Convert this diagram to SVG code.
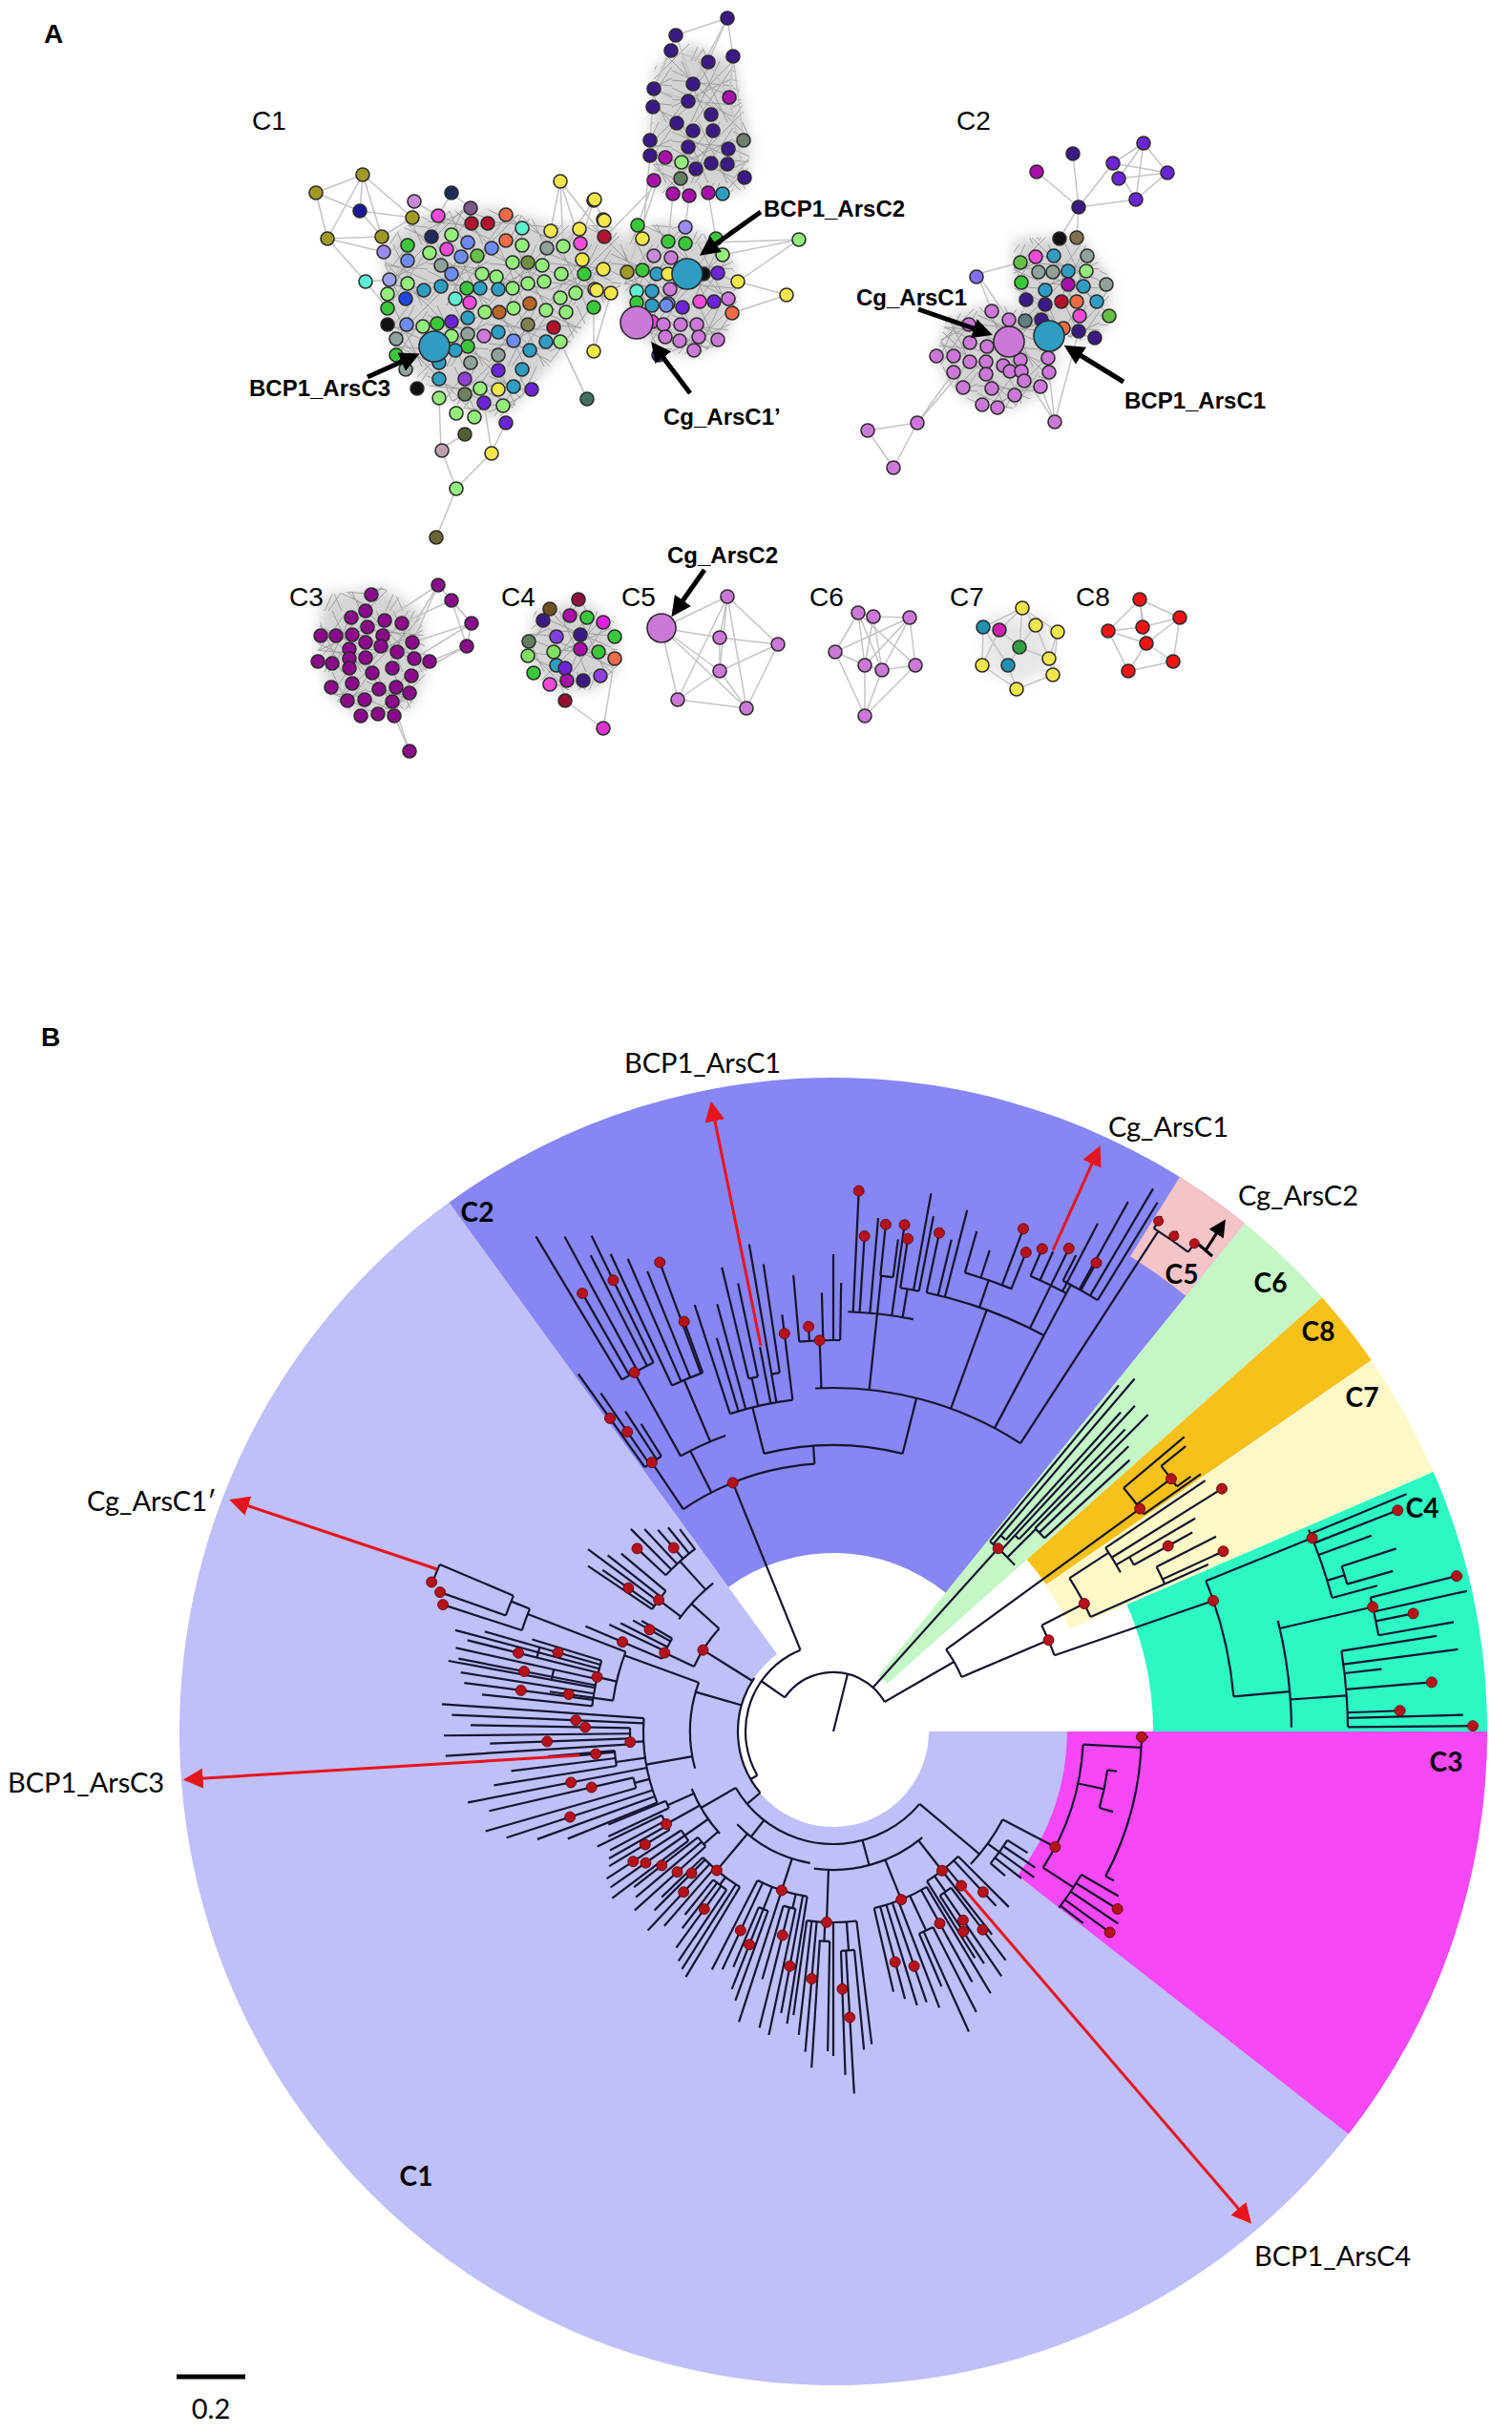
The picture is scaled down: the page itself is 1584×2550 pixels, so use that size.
<svg xmlns="http://www.w3.org/2000/svg" width="1584" height="2550" viewBox="0 0 1584 2550">
<defs>
<style>
.pl-lab{font-family:"Liberation Sans",Arial,sans-serif;font-weight:bold;font-size:28px;fill:#000}
.ca{font-family:"Liberation Sans",Arial,sans-serif;font-size:28px;fill:#000}
.na{font-family:"Liberation Sans",Arial,sans-serif;font-weight:bold;font-size:24px;fill:#000}
.cb{font-family:Lato,"Open Sans",sans-serif;font-weight:bold;font-size:28px;fill:#000;text-anchor:middle}
.lb{font-family:Lato,"Open Sans",sans-serif;font-size:29px;fill:#000}
.cl-soft{fill:#b0b0b0;opacity:0.55;filter:url(#blur)}
.cl-mesh{fill:url(#mesh);opacity:0.8}
#edges line{stroke:#c4c4c4;stroke-width:1.5}
#nodes circle{stroke:#2b2b2b;stroke-width:1.6}
.lg{fill:#93ee7c}.g{fill:#3ac83a}.g2{fill:#66bf48}.t{fill:#2f9dc2}.y{fill:#f3e64a}.ol{fill:#a09a22}
.dp{fill:#3c1a86}.pu{fill:#6b24d6}.mg{fill:#a80fa8}.m3{fill:#8a0a8a}.pp{fill:#cc78d8}.pk{fill:#f24ad8}
.bl{fill:#6e8cf0}.aq{fill:#5ff0d2}.cr{fill:#b3122e}.or{fill:#f06c48}.gr{fill:#8fa399}.bk{fill:#111}
.nv{fill:#1e2b5a}.lv{fill:#9c8af0}.bw{fill:#b8652a}.rd{fill:#ee1414}.pl{fill:#c58ad8}
.tr path,.tr circle{fill:none;stroke:#15152f;stroke-width:2.2}
.dt circle{fill:#b5121b;stroke:#5a0808;stroke-width:0.8}
.arw{stroke:#000;stroke-width:5;fill:none}
.rar{stroke:#e8141b;stroke-width:3;fill:none}
</style>
<filter id="blur" x="-20%" y="-20%" width="140%" height="140%"><feGaussianBlur stdDeviation="7"/></filter>
<pattern id="mesh" width="64" height="64" patternUnits="userSpaceOnUse"><path d="M0 10L64 38M0 48L64 18M10 0L38 64M50 0L20 64M0 0L64 64M64 0L0 64M0 28L64 58M28 0L58 64M0 60L44 0M24 64L64 6M0 20L64 26M0 40L64 46" stroke="#8e8e8e" stroke-width="1" fill="none"/></pattern>
<path id="cA1" d="M405 250L450 222L520 218L580 236L640 236L660 262L650 300L620 330L590 368L560 400L530 436L500 436L470 418L440 398L414 368L404 330L402 290Z"/>
<path id="cA2" d="M656 242L700 232L740 246L768 272L772 320L758 358L730 372L700 370L670 352L656 320L652 280Z"/>
<path id="cA3" d="M686 70L720 45L768 62L786 150L782 198L740 206L690 202L680 150Z"/>
<path id="cC2a" d="M1062 250L1130 247L1162 290L1162 340L1140 358L1082 344L1062 300Z"/>
<path id="cC2b" d="M992 332L1040 318L1100 332L1108 380L1094 410L1060 428L1020 423L990 398L982 370Z"/>
<path id="cC3" d="M338 624L400 615L440 640L448 700L430 742L380 752L346 730L333 680Z"/>
<path id="cC4" d="M560 640L610 630L644 652L648 700L620 723L576 723L552 690Z"/>
<path id="cC7" d="M1032 645L1098 645L1104 700L1065 718L1030 700Z"/>
<marker id="ka" viewBox="0 0 10 10" refX="7" refY="5" markerWidth="4.2" markerHeight="4.2" orient="auto"><path d="M0 0L10 5L0 10z" fill="#000"/></marker>
<marker id="kb" viewBox="0 0 10 10" refX="7" refY="5" markerWidth="6" markerHeight="6" orient="auto"><path d="M0 0L10 5L0 10z" fill="#000"/></marker>
<marker id="ra" viewBox="0 0 10 10" refX="7" refY="5" markerWidth="7" markerHeight="7" orient="auto"><path d="M0 0L10 5L0 10z" fill="#e8141b"/></marker>
</defs>
<rect width="1584" height="2550" fill="#fff"/>

<!-- ================= PANEL A ================= -->
<text class="pl-lab" x="46" y="45">A</text>
<g id="clouds">
<use href="#cA1" class="cl-soft"/><use href="#cA2" class="cl-soft"/><use href="#cA3" class="cl-soft"/><use href="#cC2a" class="cl-soft"/><use href="#cC2b" class="cl-soft"/><use href="#cC3" class="cl-soft"/><use href="#cC4" class="cl-soft"/><use href="#cC7" class="cl-soft" style="opacity:0.3"/>
<use href="#cA1" class="cl-mesh"/><use href="#cA2" class="cl-mesh"/><use href="#cA3" class="cl-mesh"/><use href="#cC2a" class="cl-mesh"/><use href="#cC2b" class="cl-mesh"/><use href="#cC3" class="cl-mesh"/><use href="#cC4" class="cl-mesh"/>
</g>
<g id="edges">
<line x1="380" y1="183" x2="331" y2="202"/><line x1="380" y1="183" x2="343" y2="250"/><line x1="380" y1="183" x2="377" y2="221"/><line x1="380" y1="183" x2="400" y2="248"/><line x1="380" y1="183" x2="432" y2="228"/><line x1="331" y1="202" x2="343" y2="250"/><line x1="343" y1="250" x2="400" y2="248"/><line x1="377" y1="221" x2="400" y2="248"/><line x1="400" y1="248" x2="432" y2="228"/><line x1="400" y1="248" x2="402" y2="264"/><line x1="402" y1="264" x2="427" y2="257"/><line x1="432" y1="228" x2="434" y2="211"/><line x1="434" y1="211" x2="459" y2="226"/><line x1="343" y1="250" x2="383" y2="295"/><line x1="383" y1="295" x2="408" y2="293"/><line x1="331" y1="202" x2="377" y2="221"/><line x1="377" y1="221" x2="432" y2="228"/><line x1="402" y1="264" x2="408" y2="293"/><line x1="343" y1="250" x2="402" y2="264"/><line x1="473" y1="202" x2="459" y2="226"/><line x1="473" y1="202" x2="493" y2="218"/><line x1="383" y1="295" x2="406" y2="323"/><line x1="408" y1="293" x2="427" y2="273"/>
<line x1="587" y1="190" x2="608" y2="255"/><line x1="587" y1="190" x2="573" y2="260"/><line x1="587" y1="190" x2="633" y2="248"/><line x1="622" y1="210" x2="632" y2="230"/><line x1="622" y1="210" x2="608" y2="255"/><line x1="587" y1="190" x2="590" y2="258"/><line x1="622" y1="210" x2="590" y2="258"/>
<line x1="462" y1="470" x2="478" y2="512"/><line x1="515" y1="474" x2="478" y2="512"/><line x1="478" y1="512" x2="457" y2="563"/><line x1="462" y1="470" x2="460" y2="417"/><line x1="515" y1="474" x2="507" y2="422"/><line x1="515" y1="474" x2="530" y2="443"/><line x1="462" y1="470" x2="487" y2="455"/><line x1="615" y1="418" x2="587" y2="358"/><line x1="615" y1="418" x2="580" y2="343"/><line x1="622" y1="368" x2="622" y2="322"/><line x1="622" y1="368" x2="640" y2="307"/>
<line x1="837" y1="251" x2="773" y2="295"/><line x1="837" y1="251" x2="757" y2="267"/><line x1="824" y1="309" x2="773" y2="295"/><line x1="824" y1="309" x2="767" y2="328"/><line x1="837" y1="251" x2="718" y2="255"/>
<line x1="668" y1="236" x2="685" y2="189"/><line x1="700" y1="253" x2="705" y2="203"/><line x1="657" y1="285" x2="697" y2="165"/><line x1="673" y1="250" x2="681" y2="163"/><line x1="750" y1="250" x2="742" y2="202"/><line x1="718" y1="238" x2="722" y2="205"/><line x1="637" y1="245" x2="681" y2="200"/>
<line x1="762" y1="19" x2="708" y2="37"/><line x1="762" y1="19" x2="742" y2="65"/><line x1="762" y1="19" x2="768" y2="59"/><line x1="762" y1="19" x2="726" y2="88"/><line x1="708" y1="37" x2="685" y2="93"/><line x1="703" y1="53" x2="742" y2="65"/><line x1="768" y1="59" x2="764" y2="102"/><line x1="768" y1="59" x2="779" y2="147"/><line x1="764" y1="102" x2="780" y2="186"/><line x1="685" y1="93" x2="681" y2="147"/><line x1="708" y1="37" x2="726" y2="88"/><line x1="703" y1="53" x2="685" y2="93"/><line x1="742" y1="65" x2="726" y2="88"/><line x1="742" y1="65" x2="764" y2="102"/><line x1="685" y1="93" x2="721" y2="106"/><line x1="726" y1="88" x2="745" y2="120"/>
<line x1="1198" y1="150" x2="1166" y2="171"/><line x1="1198" y1="150" x2="1172" y2="187"/><line x1="1198" y1="150" x2="1223" y2="181"/><line x1="1198" y1="150" x2="1190" y2="209"/><line x1="1166" y1="171" x2="1223" y2="181"/><line x1="1172" y1="187" x2="1223" y2="181"/><line x1="1190" y1="209" x2="1223" y2="181"/><line x1="1190" y1="209" x2="1130" y2="217"/><line x1="1124" y1="161" x2="1130" y2="217"/><line x1="1086" y1="180" x2="1130" y2="217"/><line x1="1166" y1="171" x2="1130" y2="217"/><line x1="1130" y1="217" x2="1110" y2="250"/><line x1="1130" y1="217" x2="1128" y2="249"/><line x1="1166" y1="171" x2="1190" y2="209"/>
<line x1="1024" y1="287" x2="1069" y2="275"/><line x1="1024" y1="287" x2="1039" y2="326"/><line x1="1024" y1="287" x2="1057" y2="335"/><line x1="961" y1="443" x2="1016" y2="379"/><line x1="961" y1="443" x2="909" y2="451"/><line x1="909" y1="451" x2="936" y2="490"/><line x1="936" y1="490" x2="961" y2="443"/><line x1="961" y1="443" x2="999" y2="390"/><line x1="1105" y1="442" x2="1090" y2="405"/><line x1="1105" y1="442" x2="1099" y2="390"/><line x1="1105" y1="442" x2="1070" y2="389"/><line x1="1105" y1="442" x2="1130" y2="347"/>
<line x1="459" y1="613" x2="473" y2="629"/><line x1="473" y1="629" x2="494" y2="653"/><line x1="494" y1="653" x2="489" y2="677"/><line x1="459" y1="613" x2="494" y2="653"/><line x1="473" y1="629" x2="489" y2="677"/><line x1="459" y1="613" x2="432" y2="673"/><line x1="489" y1="677" x2="450" y2="693"/><line x1="494" y1="653" x2="434" y2="690"/><line x1="459" y1="613" x2="416" y2="683"/><line x1="473" y1="629" x2="421" y2="653"/><line x1="494" y1="653" x2="432" y2="673"/><line x1="489" y1="677" x2="431" y2="708"/><line x1="459" y1="613" x2="403" y2="650"/><line x1="429" y1="787" x2="411" y2="733"/><line x1="429" y1="787" x2="413" y2="750"/>
<line x1="632" y1="763" x2="592" y2="734"/><line x1="632" y1="763" x2="644" y2="690"/><line x1="592" y1="734" x2="583" y2="697"/>
<line x1="693" y1="658" x2="762" y2="625"/><line x1="693" y1="658" x2="754" y2="668"/><line x1="693" y1="658" x2="754" y2="703"/><line x1="693" y1="658" x2="710" y2="733"/><line x1="693" y1="658" x2="782" y2="742"/><line x1="762" y1="625" x2="754" y2="668"/><line x1="762" y1="625" x2="815" y2="675"/><line x1="762" y1="625" x2="754" y2="703"/><line x1="762" y1="625" x2="782" y2="742"/><line x1="754" y1="668" x2="815" y2="675"/><line x1="754" y1="668" x2="754" y2="703"/><line x1="754" y1="703" x2="815" y2="675"/><line x1="754" y1="703" x2="710" y2="733"/><line x1="754" y1="703" x2="782" y2="742"/><line x1="710" y1="733" x2="782" y2="742"/><line x1="815" y1="675" x2="782" y2="742"/><line x1="710" y1="733" x2="762" y2="625"/>
<line x1="899" y1="642" x2="915" y2="646"/><line x1="915" y1="646" x2="953" y2="647"/><line x1="899" y1="642" x2="875" y2="683"/><line x1="899" y1="642" x2="906" y2="697"/><line x1="899" y1="642" x2="959" y2="697"/><line x1="915" y1="646" x2="906" y2="697"/><line x1="915" y1="646" x2="924" y2="702"/><line x1="953" y1="647" x2="924" y2="702"/><line x1="953" y1="647" x2="959" y2="697"/><line x1="953" y1="647" x2="906" y2="697"/><line x1="875" y1="683" x2="906" y2="697"/><line x1="875" y1="683" x2="906" y2="750"/><line x1="906" y1="697" x2="924" y2="702"/><line x1="924" y1="702" x2="959" y2="697"/><line x1="906" y1="697" x2="906" y2="750"/><line x1="924" y1="702" x2="906" y2="750"/><line x1="959" y1="697" x2="906" y2="750"/><line x1="899" y1="642" x2="924" y2="702"/><line x1="875" y1="683" x2="953" y2="647"/>
<line x1="1071" y1="637" x2="1030" y2="657"/><line x1="1071" y1="637" x2="1047" y2="660"/><line x1="1071" y1="637" x2="1085" y2="655"/><line x1="1071" y1="637" x2="1108" y2="662"/><line x1="1071" y1="637" x2="1068" y2="678"/><line x1="1030" y1="657" x2="1029" y2="697"/><line x1="1047" y1="660" x2="1068" y2="678"/><line x1="1085" y1="655" x2="1068" y2="678"/><line x1="1108" y1="662" x2="1099" y2="690"/><line x1="1068" y1="678" x2="1056" y2="697"/><line x1="1068" y1="678" x2="1099" y2="690"/><line x1="1029" y1="697" x2="1065" y2="722"/><line x1="1056" y1="697" x2="1065" y2="722"/><line x1="1103" y1="707" x2="1065" y2="722"/><line x1="1099" y1="690" x2="1103" y2="707"/><line x1="1030" y1="657" x2="1056" y2="697"/><line x1="1108" y1="662" x2="1103" y2="707"/><line x1="1047" y1="660" x2="1029" y2="697"/><line x1="1085" y1="655" x2="1099" y2="690"/>
<line x1="1194" y1="628" x2="1236" y2="647"/><line x1="1194" y1="628" x2="1161" y2="661"/><line x1="1194" y1="628" x2="1197" y2="657"/><line x1="1194" y1="628" x2="1201" y2="674"/><line x1="1236" y1="647" x2="1197" y2="657"/><line x1="1236" y1="647" x2="1229" y2="693"/><line x1="1236" y1="647" x2="1201" y2="674"/><line x1="1161" y1="661" x2="1197" y2="657"/><line x1="1161" y1="661" x2="1182" y2="703"/><line x1="1197" y1="657" x2="1201" y2="674"/><line x1="1201" y1="674" x2="1229" y2="693"/><line x1="1201" y1="674" x2="1182" y2="703"/><line x1="1229" y1="693" x2="1182" y2="703"/><line x1="1161" y1="661" x2="1201" y2="674"/>
</g>
<g id="nodes">
<circle class="ol" cx="380" cy="183" r="7"/><circle class="ol" cx="331" cy="202" r="7"/><circle class="ol" cx="343" cy="250" r="7"/><circle style="fill:#1a1a9a" cx="377" cy="221" r="7"/><circle class="ol" cx="400" cy="248" r="7"/><circle class="lv" cx="402" cy="264" r="7"/><circle class="pl" cx="434" cy="211" r="7"/><circle class="ol" cx="432" cy="228" r="7"/><circle class="nv" cx="473" cy="202" r="7"/><circle class="aq" cx="383" cy="295" r="7"/><circle style="fill:#9e9ef0" cx="408" cy="293" r="7"/><circle class="pk" cx="459" cy="226" r="7"/><circle style="fill:#7a5a8a" cx="493" cy="218" r="7"/><circle class="cr" cx="494" cy="234" r="7"/><circle class="cr" cx="511" cy="234" r="7"/><circle class="or" cx="530" cy="225" r="7"/><circle class="nv" cx="452" cy="248" r="7"/><circle class="lg" cx="473" cy="246" r="7"/><circle class="g" cx="427" cy="257" r="7"/><circle class="bl" cx="427" cy="273" r="7"/><circle class="lg" cx="450" cy="265" r="7"/><circle class="pk" cx="468" cy="261" r="7"/><circle class="bl" cx="490" cy="254" r="7"/><circle class="bl" cx="515" cy="260" r="7"/><circle class="or" cx="530" cy="252" r="7"/><circle class="aq" cx="547" cy="239" r="7"/><circle class="lg" cx="547" cy="257" r="7"/><circle class="bl" cx="483" cy="269" r="7"/><circle class="g2" cx="500" cy="268" r="7"/><circle class="gr" cx="462" cy="278" r="7"/><circle class="lg" cx="427" cy="297" r="7"/><circle class="t" cx="444" cy="304" r="7"/><circle style="fill:#2244e0" cx="425" cy="313" r="7"/><circle class="lg" cx="406" cy="308" r="7"/><circle class="g" cx="406" cy="323" r="7"/><circle class="bk" cx="406" cy="340" r="7"/><circle class="bl" cx="426" cy="340" r="7"/><circle class="lg" cx="443" cy="342" r="7"/><circle class="g" cx="458" cy="339" r="7"/><circle class="gr" cx="415" cy="355" r="7"/><circle class="g" cx="415" cy="372" r="7"/><circle class="gr" cx="425" cy="387" r="7"/><circle class="bk" cx="437" cy="407" r="7"/><circle class="t" cx="460" cy="397" r="7"/><circle class="lg" cx="460" cy="417" r="7"/><circle class="lg" cx="478" cy="433" r="7"/><circle class="lg" cx="497" cy="437" r="7"/><circle style="fill:#506030" cx="487" cy="455" r="7"/><circle style="fill:#c0a0b0" cx="463" cy="472" r="7"/><circle class="y" cx="515" cy="475" r="7"/><circle class="lg" cx="478" cy="512" r="7"/><circle style="fill:#6b6535" cx="457" cy="563" r="7"/><circle class="t" cx="462" cy="300" r="7"/><circle class="bl" cx="473" cy="287" r="7"/><circle class="aq" cx="477" cy="313" r="7"/><circle class="g" cx="489" cy="302" r="7"/><circle class="pk" cx="492" cy="317" r="7"/><circle class="pu" cx="473" cy="337" r="7"/><circle class="t" cx="490" cy="333" r="7"/><circle class="lg" cx="473" cy="352" r="7"/><circle class="gr" cx="490" cy="350" r="7"/><circle class="g" cx="490" cy="363" r="7"/><circle class="t" cx="477" cy="367" r="7"/><circle class="t" cx="460" cy="380" r="7"/><circle class="gr" cx="493" cy="380" r="7"/><circle style="fill:#9040d0" cx="487" cy="397" r="7"/><circle style="fill:#708060" cx="487" cy="413" r="7"/><circle class="lg" cx="503" cy="407" r="7"/><circle class="pu" cx="507" cy="422" r="7"/><circle class="lg" cx="505" cy="287" r="7"/><circle class="lg" cx="520" cy="290" r="7"/><circle class="t" cx="522" cy="303" r="7"/><circle class="t" cx="503" cy="302" r="7"/><circle class="lg" cx="508" cy="327" r="7"/><circle class="pp" cx="507" cy="352" r="7"/><circle class="t" cx="522" cy="348" r="7"/><circle class="gr" cx="522" cy="372" r="7"/><circle class="pu" cx="522" cy="388" r="7"/><circle class="y" cx="522" cy="408" r="7"/><circle class="lg" cx="527" cy="425" r="7"/><circle class="pu" cx="530" cy="443" r="7"/><circle class="bw" cx="523" cy="327" r="7"/><circle class="lg" cx="537" cy="302" r="7"/><circle class="lg" cx="538" cy="323" r="7"/><circle class="bl" cx="538" cy="357" r="7"/><circle class="t" cx="547" cy="387" r="7"/><circle class="t" cx="538" cy="405" r="7"/><circle class="pu" cx="557" cy="408" r="7"/><circle class="lg" cx="537" cy="275" r="7"/><circle style="fill:#709040" cx="553" cy="275" r="7"/><circle class="lg" cx="553" cy="297" r="7"/><circle class="bw" cx="555" cy="318" r="7"/><circle style="fill:#808050" cx="553" cy="340" r="7"/><circle class="t" cx="555" cy="367" r="7"/><circle class="lg" cx="572" cy="325" r="7"/><circle class="lg" cx="570" cy="295" r="7"/><circle class="lg" cx="568" cy="278" r="7"/><circle class="gr" cx="573" cy="260" r="7"/><circle class="y" cx="577" cy="242" r="7"/><circle class="t" cx="572" cy="358" r="7"/><circle class="cr" cx="580" cy="343" r="7"/><circle class="lg" cx="587" cy="358" r="7"/><circle class="lg" cx="587" cy="312" r="7"/><circle class="lg" cx="588" cy="287" r="7"/><circle class="lg" cx="590" cy="258" r="7"/><circle class="lg" cx="593" cy="327" r="7"/><circle class="y" cx="587" cy="190" r="7"/><circle class="lg" cx="603" cy="307" r="7"/><circle class="y" cx="607" cy="240" r="7"/><circle class="pk" cx="608" cy="255" r="7"/><circle class="y" cx="610" cy="272" r="7"/><circle class="g" cx="612" cy="287" r="7"/><circle class="y" cx="622" cy="210" r="7"/><circle class="y" cx="623" cy="303" r="7"/><circle class="g" cx="622" cy="322" r="7"/><circle class="y" cx="632" cy="230" r="7"/><circle class="cr" cx="633" cy="248" r="7"/><circle class="y" cx="632" cy="282" r="7"/><circle class="y" cx="640" cy="307" r="7"/><circle style="fill:#407060" cx="615" cy="418" r="7"/><circle class="y" cx="622" cy="368" r="7"/>
<circle class="ol" cx="657" cy="285" r="7"/><circle class="g" cx="668" cy="236" r="7"/><circle class="y" cx="673" cy="250" r="7"/><circle class="g" cx="673" cy="283" r="7"/><circle class="t" cx="688" cy="287" r="7"/><circle class="aq" cx="667" cy="305" r="7"/><circle class="g" cx="667" cy="317" r="7"/><circle class="t" cx="683" cy="305" r="7"/><circle class="t" cx="683" cy="320" r="7"/><circle class="bl" cx="700" cy="318" r="7"/><circle class="pl" cx="685" cy="268" r="7"/><circle class="g" cx="700" cy="253" r="7"/><circle class="g" cx="718" cy="255" r="7"/><circle class="lv" cx="718" cy="238" r="7"/><circle class="y" cx="700" cy="287" r="7"/><circle class="pp" cx="703" cy="270" r="7"/><circle class="bk" cx="737" cy="287" r="7"/><circle class="pu" cx="715" cy="322" r="7"/><circle class="pk" cx="733" cy="316" r="7"/><circle class="pu" cx="748" cy="316" r="7"/><circle class="pp" cx="763" cy="313" r="7"/><circle class="or" cx="767" cy="328" r="7"/><circle class="pk" cx="683" cy="337" r="7"/><circle class="pp" cx="695" cy="340" r="7"/><circle class="pp" cx="713" cy="340" r="7"/><circle class="pp" cx="730" cy="340" r="7"/><circle class="pp" cx="697" cy="353" r="7"/><circle class="pp" cx="712" cy="357" r="7"/><circle class="pp" cx="732" cy="353" r="7"/><circle class="pp" cx="727" cy="367" r="7"/><circle class="pp" cx="752" cy="356" r="7"/><circle class="pu" cx="690" cy="372" r="7"/><circle class="pu" cx="752" cy="286" r="7"/><circle class="y" cx="773" cy="295" r="7"/><circle class="y" cx="824" cy="309" r="7"/><circle class="lg" cx="837" cy="251" r="7"/><circle class="g" cx="750" cy="250" r="7"/><circle class="lg" cx="757" cy="267" r="7"/><circle class="y" cx="625" cy="304" r="7"/><circle class="y" cx="623" cy="209" r="7"/><circle class="y" cx="633" cy="231" r="7"/><circle class="pp" cx="702" cy="303" r="7"/><circle class="bl" cx="698" cy="320" r="7"/>
<circle class="t" cx="455" cy="363" r="16"/><circle class="pp" cx="667" cy="338" r="17"/><circle class="t" cx="720" cy="287" r="16"/>
<circle class="dp" cx="762" cy="19" r="7"/><circle class="dp" cx="708" cy="37" r="7"/><circle class="dp" cx="703" cy="53" r="7"/><circle class="dp" cx="742" cy="65" r="7"/><circle class="dp" cx="768" cy="59" r="7"/><circle class="dp" cx="685" cy="93" r="7"/><circle class="dp" cx="726" cy="88" r="7"/><circle class="mg" cx="764" cy="102" r="7"/><circle class="dp" cx="684" cy="112" r="7"/><circle class="dp" cx="721" cy="106" r="7"/><circle class="dp" cx="745" cy="120" r="7"/><circle class="dp" cx="709" cy="129" r="7"/><circle class="dp" cx="726" cy="137" r="7"/><circle class="dp" cx="747" cy="137" r="7"/><circle class="dp" cx="681" cy="147" r="7"/><circle class="dp" cx="721" cy="154" r="7"/><circle class="dp" cx="763" cy="156" r="7"/><circle style="fill:#708070" cx="779" cy="147" r="7"/><circle class="dp" cx="681" cy="163" r="7"/><circle class="mg" cx="697" cy="165" r="7"/><circle class="lg" cx="714" cy="170" r="7"/><circle class="dp" cx="729" cy="177" r="7"/><circle class="dp" cx="745" cy="171" r="7"/><circle class="dp" cx="762" cy="172" r="7"/><circle class="dp" cx="780" cy="186" r="7"/><circle class="mg" cx="685" cy="189" r="7"/><circle style="fill:#608060" cx="713" cy="187" r="7"/><circle class="mg" cx="705" cy="203" r="7"/><circle class="mg" cx="722" cy="205" r="7"/><circle class="mg" cx="742" cy="202" r="7"/><circle class="t" cx="757" cy="203" r="7"/>
<circle class="pu" cx="1198" cy="150" r="7"/><circle class="dp" cx="1124" cy="161" r="7"/><circle class="mg" cx="1086" cy="180" r="7"/><circle class="pu" cx="1166" cy="171" r="7"/><circle class="pu" cx="1172" cy="187" r="7"/><circle class="pu" cx="1223" cy="181" r="7"/><circle class="pu" cx="1190" cy="209" r="7"/><circle class="dp" cx="1130" cy="217" r="7"/>
<circle class="bk" cx="1110" cy="250" r="7"/><circle style="fill:#807050" cx="1128" cy="249" r="7"/><circle class="pk" cx="1085" cy="269" r="7"/><circle class="t" cx="1104" cy="268" r="7"/><circle class="gr" cx="1139" cy="268" r="7"/><circle class="g2" cx="1069" cy="275" r="7"/><circle class="gr" cx="1088" cy="285" r="7"/><circle class="gr" cx="1103" cy="285" r="7"/><circle class="t" cx="1119" cy="284" r="7"/><circle class="lg" cx="1138" cy="284" r="7"/><circle class="g" cx="1070" cy="296" r="7"/><circle class="t" cx="1095" cy="304" r="7"/><circle class="mg" cx="1119" cy="298" r="7"/><circle class="t" cx="1135" cy="300" r="7"/><circle class="gr" cx="1159" cy="298" r="7"/><circle class="dp" cx="1075" cy="314" r="7"/><circle class="dp" cx="1095" cy="319" r="7"/><circle class="cr" cx="1112" cy="316" r="7"/><circle class="or" cx="1128" cy="316" r="7"/><circle class="t" cx="1149" cy="316" r="7"/><circle style="fill:#608080" cx="1074" cy="336" r="7"/><circle class="dp" cx="1091" cy="335" r="7"/><circle class="pk" cx="1131" cy="331" r="7"/><circle class="g2" cx="1162" cy="331" r="7"/><circle class="dp" cx="1130" cy="347" r="7"/><circle class="dp" cx="1147" cy="354" r="7"/><circle class="or" cx="1114" cy="344" r="7"/><circle style="fill:#8070f0" cx="1023" cy="290" r="7"/>
<circle class="pp" cx="1039" cy="326" r="7"/><circle class="pp" cx="1057" cy="335" r="7"/><circle class="pp" cx="1015" cy="340" r="7"/><circle class="pp" cx="1016" cy="359" r="7"/><circle class="pp" cx="1034" cy="363" r="7"/><circle class="pp" cx="981" cy="373" r="7"/><circle class="pp" cx="999" cy="373" r="7"/><circle class="pp" cx="1016" cy="379" r="7"/><circle class="pp" cx="1033" cy="379" r="7"/><circle class="pp" cx="1051" cy="383" r="7"/><circle class="pp" cx="1069" cy="377" r="7"/><circle class="pp" cx="1098" cy="375" r="7"/><circle class="pp" cx="999" cy="390" r="7"/><circle class="pp" cx="1033" cy="392" r="7"/><circle class="pp" cx="1058" cy="389" r="7"/><circle class="pp" cx="1070" cy="389" r="7"/><circle class="pp" cx="1099" cy="390" r="7"/><circle class="pp" cx="1009" cy="406" r="7"/><circle class="pp" cx="1039" cy="407" r="7"/><circle class="pp" cx="1073" cy="399" r="7"/><circle class="pp" cx="1090" cy="405" r="7"/><circle class="pp" cx="1063" cy="414" r="7"/><circle class="pp" cx="1029" cy="424" r="7"/><circle class="pp" cx="1045" cy="427" r="7"/><circle class="pp" cx="1105" cy="442" r="7"/><circle class="pp" cx="961" cy="443" r="7"/><circle class="pp" cx="909" cy="451" r="7"/><circle class="pp" cx="936" cy="490" r="7"/>
<circle class="pp" cx="1057" cy="358" r="16"/><circle class="t" cx="1099" cy="352" r="16"/>
<circle class="m3" cx="389" cy="623" r="7"/><circle class="m3" cx="459" cy="613" r="7"/><circle class="m3" cx="473" cy="629" r="7"/><circle class="m3" cx="494" cy="653" r="7"/><circle class="m3" cx="489" cy="677" r="7"/><circle class="m3" cx="383" cy="640" r="7"/><circle class="m3" cx="368" cy="647" r="7"/><circle class="m3" cx="403" cy="650" r="7"/><circle class="m3" cx="421" cy="653" r="7"/><circle class="m3" cx="385" cy="657" r="7"/><circle class="m3" cx="336" cy="666" r="7"/><circle class="m3" cx="352" cy="666" r="7"/><circle class="m3" cx="369" cy="665" r="7"/><circle class="m3" cx="401" cy="666" r="7"/><circle class="m3" cx="432" cy="673" r="7"/><circle class="m3" cx="383" cy="673" r="7"/><circle class="m3" cx="366" cy="680" r="7"/><circle class="m3" cx="399" cy="677" r="7"/><circle class="m3" cx="333" cy="693" r="7"/><circle class="m3" cx="348" cy="695" r="7"/><circle class="m3" cx="366" cy="690" r="7"/><circle class="m3" cx="383" cy="689" r="7"/><circle class="m3" cx="416" cy="683" r="7"/><circle class="m3" cx="434" cy="690" r="7"/><circle class="m3" cx="450" cy="693" r="7"/><circle class="m3" cx="366" cy="700" r="7"/><circle class="m3" cx="390" cy="705" r="7"/><circle class="m3" cx="411" cy="700" r="7"/><circle class="m3" cx="431" cy="708" r="7"/><circle class="m3" cx="347" cy="720" r="7"/><circle class="m3" cx="369" cy="716" r="7"/><circle class="m3" cx="397" cy="722" r="7"/><circle class="m3" cx="415" cy="720" r="7"/><circle class="m3" cx="429" cy="726" r="7"/><circle class="m3" cx="364" cy="734" r="7"/><circle class="m3" cx="382" cy="733" r="7"/><circle class="m3" cx="411" cy="735" r="7"/><circle class="m3" cx="378" cy="750" r="7"/><circle class="m3" cx="396" cy="748" r="7"/><circle class="m3" cx="413" cy="750" r="7"/><circle class="m3" cx="429" cy="787" r="7"/>
<circle style="fill:#705020" cx="576" cy="638" r="7"/><circle style="fill:#901040" cx="606" cy="628" r="7"/><circle class="dp" cx="569" cy="650" r="7"/><circle class="mg" cx="597" cy="645" r="7"/><circle class="g" cx="615" cy="647" r="7"/><circle style="fill:#e020e0" cx="632" cy="652" r="7"/><circle style="fill:#608060" cx="554" cy="672" r="7"/><circle style="fill:#8040e0" cx="583" cy="667" r="7"/><circle class="dp" cx="608" cy="665" r="7"/><circle class="g" cx="644" cy="667" r="7"/><circle style="fill:#80e060" cx="553" cy="687" r="7"/><circle style="fill:#80e060" cx="580" cy="683" r="7"/><circle class="mg" cx="608" cy="680" r="7"/><circle class="g" cx="627" cy="683" r="7"/><circle class="or" cx="644" cy="690" r="7"/><circle class="t" cx="583" cy="697" r="7"/><circle class="g" cx="559" cy="705" r="7"/><circle class="pu" cx="592" cy="700" r="7"/><circle class="dp" cx="611" cy="713" r="7"/><circle style="fill:#9040e0" cx="629" cy="708" r="7"/><circle class="pk" cx="576" cy="717" r="7"/><circle class="mg" cx="594" cy="713" r="7"/><circle style="fill:#901030" cx="592" cy="734" r="7"/><circle style="fill:#e030d0" cx="632" cy="763" r="7"/>
<circle class="pp" cx="762" cy="625" r="7"/><circle class="pp" cx="754" cy="668" r="7"/><circle class="pp" cx="815" cy="675" r="7"/><circle class="pp" cx="754" cy="703" r="7"/><circle class="pp" cx="710" cy="733" r="7"/><circle class="pp" cx="782" cy="742" r="7"/><circle class="pp" cx="693" cy="658" r="15"/>
<circle class="pp" cx="899" cy="642" r="7"/><circle class="pp" cx="915" cy="646" r="7"/><circle class="pp" cx="953" cy="647" r="7"/><circle class="pp" cx="875" cy="683" r="7"/><circle class="pp" cx="906" cy="697" r="7"/><circle class="pp" cx="924" cy="702" r="7"/><circle class="pp" cx="959" cy="697" r="7"/><circle class="pp" cx="906" cy="750" r="7"/>
<circle class="y" cx="1071" cy="637" r="7"/><circle style="fill:#2090b0" cx="1030" cy="657" r="7"/><circle style="fill:#d020b0" cx="1047" cy="660" r="7"/><circle class="y" cx="1085" cy="655" r="7"/><circle class="y" cx="1108" cy="662" r="7"/><circle style="fill:#30a040" cx="1068" cy="678" r="7"/><circle class="y" cx="1029" cy="697" r="7"/><circle style="fill:#2090b0" cx="1056" cy="697" r="7"/><circle class="y" cx="1099" cy="690" r="7"/><circle class="y" cx="1103" cy="707" r="7"/><circle class="y" cx="1065" cy="722" r="7"/>
<circle class="rd" cx="1194" cy="628" r="7"/><circle class="rd" cx="1236" cy="647" r="7"/><circle class="rd" cx="1161" cy="661" r="7"/><circle class="rd" cx="1197" cy="657" r="7"/><circle class="rd" cx="1201" cy="674" r="7"/><circle class="rd" cx="1229" cy="693" r="7"/><circle class="rd" cx="1182" cy="703" r="7"/>
</g>
<g id="labels-A">
<text class="ca" x="264" y="136">C1</text>
<text class="ca" x="1002" y="136">C2</text>
<text class="ca" x="303" y="635">C3</text>
<text class="ca" x="525" y="635">C4</text>
<text class="ca" x="651" y="635">C5</text>
<text class="ca" x="848" y="635">C6</text>
<text class="ca" x="995" y="635">C7</text>
<text class="ca" x="1127" y="635">C8</text>
<text class="na" x="800" y="227">BCP1_ArsC2</text>
<text class="na" x="261" y="415">BCP1_ArsC3</text>
<text class="na" x="695" y="445">Cg_ArsC1’</text>
<text class="na" x="699" y="590">Cg_ArsC2</text>
<text class="na" x="897" y="320">Cg_ArsC1</text>
<text class="na" x="1178" y="428">BCP1_ArsC1</text>
</g>
<g id="arrows-A">
<line class="arw" x1="797" y1="222" x2="738" y2="264" marker-end="url(#ka)"/>
<line class="arw" x1="723" y1="412" x2="686" y2="363" marker-end="url(#ka)"/>
<line class="arw" x1="385" y1="395" x2="434" y2="373" marker-end="url(#ka)"/>
<line class="arw" x1="738" y1="597" x2="707" y2="641" marker-end="url(#ka)"/>
<line class="arw" x1="962" y1="324" x2="1034" y2="349" marker-end="url(#ka)"/>
<line class="arw" x1="1177" y1="400" x2="1120" y2="365" marker-end="url(#ka)"/>
</g>

<!-- ================= PANEL B ================= -->
<text class="pl-lab" x="43" y="1096">B</text>
<g id="sectors">
<path id="sec-C1" fill="#bfbffa" d="M1558 1814A685 685 0 1 1 470.4 1259.8L814.2 1733.1A100 100 0 1 0 973 1814Z"/>
<path id="sec-C2" fill="#8686f5" d="M470.4 1259.8A685 685 0 0 1 1304.1 1281.7L990.7 1668.7A187 187 0 0 0 763.1 1662.7Z"/>
<path id="sec-C5" fill="#f5c4c6" d="M1236 1233.1A685 685 0 0 1 1304.1 1281.7L1242.4 1357.8A587 587 0 0 0 1184.1 1316.2Z"/>
<path id="sec-C6" fill="#c4f6c6" d="M1304.1 1281.7A685 685 0 0 1 1385.2 1359.2L929.1 1764.2A75 75 0 0 0 920.2 1755.7Z"/>
<path id="sec-C8" fill="#f7c11a" d="M1385.2 1359.2A685 685 0 0 1 1436.8 1425.1L1096.1 1660.1A271 271 0 0 0 1075.7 1634.1Z"/>
<path id="sec-C7" fill="#fcf8c8" d="M1436.8 1425.1A685 685 0 0 1 1501.7 1542L1120.8 1706.8A270 270 0 0 0 1095.2 1660.7Z"/>
<path id="sec-C4" fill="#2cf8c4" d="M1501.7 1542A685 685 0 0 1 1558 1814L1208 1814A335 335 0 0 0 1180.5 1681Z"/>
<path id="sec-C3" fill="#f648f6" d="M1558 1814A685 685 0 0 1 1412.8 2235.7L1066.1 1964.8A245 245 0 0 0 1118 1814Z"/>
</g>
<g id="tree" class="tr" transform="translate(873 1814)">
<path transform="rotate(284)" d="M0 0H62"/><path transform="rotate(215)" d="M62 0H92"/><path transform="rotate(248)" d="M92 0H281"/><path transform="rotate(150)" d="M92 0H100"/><path transform="rotate(212)" d="M100 0H161"/><path transform="rotate(196)" d="M100 0H150"/><path transform="rotate(140)" d="M100 0H118"/>
<circle r="62" pathLength="360" stroke-dasharray="115 400" transform="rotate(215)"/>
<circle r="92" pathLength="360" stroke-dasharray="98 400" transform="rotate(150)"/>
<circle r="100" pathLength="360" stroke-dasharray="74 400" transform="rotate(140)"/>
<circle r="118" pathLength="360" stroke-dasharray="110 400" transform="rotate(40)"/>
<circle r="161" pathLength="360" stroke-dasharray="17 400" transform="rotate(205)"/>
<circle r="195" pathLength="360" stroke-dasharray="7 400" transform="rotate(203)"/>
<circle r="200" pathLength="360" stroke-dasharray="15 400" transform="rotate(216)"/>
<circle r="229" pathLength="360" stroke-dasharray="6 400" transform="rotate(214)"/>
<circle r="240" pathLength="360" stroke-dasharray="10 400" transform="rotate(223)"/>
<path transform="rotate(205)" d="M161 0H195"/><path transform="rotate(203)" d="M195 0H282"/><path transform="rotate(205.5)" d="M195 0H260"/><path transform="rotate(207)" d="M195 0H250"/><path transform="rotate(209)" d="M195 0H240"/><path transform="rotate(210)" d="M195 0H232"/><path transform="rotate(222)" d="M161 0H200"/><path transform="rotate(217)" d="M200 0H229"/><path transform="rotate(214)" d="M229 0H310"/><path transform="rotate(215)" d="M229 0H295"/><path transform="rotate(216.6)" d="M229 0H320"/><path transform="rotate(218)" d="M229 0H300"/><path transform="rotate(220)" d="M229 0H290"/><path transform="rotate(228)" d="M200 0H240"/><path transform="rotate(223)" d="M240 0H282"/><path transform="rotate(225)" d="M240 0H300"/><path transform="rotate(227)" d="M240 0H290"/><path transform="rotate(229)" d="M240 0H280"/><path transform="rotate(231)" d="M240 0H275"/><path transform="rotate(232.8)" d="M240 0H266"/>
<circle r="150" pathLength="360" stroke-dasharray="35 400" transform="rotate(165)"/>
<circle r="233" pathLength="360" stroke-dasharray="13 400" transform="rotate(188)"/>
<circle r="343" pathLength="360" stroke-dasharray="4 400" transform="rotate(198)"/>
<circle r="364" pathLength="360" stroke-dasharray="3.5 400" transform="rotate(199.5)"/>
<circle r="448" pathLength="360" stroke-dasharray="2.6 400" transform="rotate(200.4)"/>
<circle r="254" pathLength="360" stroke-dasharray="11 400" transform="rotate(186)"/>
<circle r="300" pathLength="360" stroke-dasharray="2.1 400" transform="rotate(190.4)"/>
<circle r="320" pathLength="360" stroke-dasharray="2 400" transform="rotate(194)"/>
<circle r="280" pathLength="360" stroke-dasharray="1.5 400" transform="rotate(187.5)"/>
<circle r="199" pathLength="360" stroke-dasharray="26 400" transform="rotate(158)"/>
<circle r="215" pathLength="360" stroke-dasharray="3 400" transform="rotate(164)"/>
<circle r="213" pathLength="360" stroke-dasharray="4.6 400" transform="rotate(176.4)"/>
<circle r="230" pathLength="360" stroke-dasharray="4 400" transform="rotate(171)"/>
<path transform="rotate(200)" d="M150 0H233"/><path transform="rotate(201)" d="M233 0H343"/><path transform="rotate(198)" d="M343 0H430"/><path transform="rotate(202)" d="M343 0H364"/><path transform="rotate(199.5)" d="M364 0H437"/><path transform="rotate(203)" d="M364 0H448"/><path transform="rotate(200.4)" d="M448 0H452"/><path transform="rotate(202.2)" d="M448 0H458"/><path transform="rotate(193)" d="M233 0H254"/><path transform="rotate(197)" d="M254 0H330"/><path transform="rotate(196)" d="M254 0H380"/><path transform="rotate(195)" d="M254 0H410"/><path transform="rotate(194)" d="M254 0H395"/><path transform="rotate(192.5)" d="M254 0H405"/><path transform="rotate(191)" d="M254 0H400"/><path transform="rotate(190.4)" d="M254 0H410"/><path transform="rotate(189)" d="M254 0H395"/><path transform="rotate(187.5)" d="M254 0H390"/><path transform="rotate(186)" d="M254 0H370"/><path transform="rotate(188)" d="M233 0H300"/>
<path transform="rotate(170)" d="M150 0H199"/><path transform="rotate(158)" d="M199 0H300"/><path transform="rotate(160)" d="M199 0H330"/><path transform="rotate(162)" d="M199 0H360"/><path transform="rotate(165.5)" d="M199 0H215"/><path transform="rotate(164)" d="M215 0H379"/><path transform="rotate(167)" d="M215 0H370"/><path transform="rotate(169)" d="M199 0H390"/><path transform="rotate(172)" d="M199 0H230"/><path transform="rotate(171)" d="M230 0H360"/><path transform="rotate(173)" d="M230 0H340"/><path transform="rotate(175)" d="M230 0H300"/><path transform="rotate(174.6)" d="M230 0H267"/><path transform="rotate(177)" d="M199 0H213"/><path transform="rotate(176.4)" d="M213 0H407"/><path transform="rotate(178)" d="M213 0H360"/><path transform="rotate(179.4)" d="M213 0H408"/><path transform="rotate(181)" d="M213 0H380"/><path transform="rotate(182.5)" d="M199 0H400"/><path transform="rotate(184)" d="M199 0H411"/>
<path transform="rotate(150)" d="M118 0H160"/>
<circle r="160" pathLength="360" stroke-dasharray="20 400" transform="rotate(138)"/>
<circle r="180" pathLength="360" stroke-dasharray="4 400" transform="rotate(138)"/>
<circle r="190" pathLength="360" stroke-dasharray="4 400" transform="rotate(143)"/>
<circle r="200" pathLength="360" stroke-dasharray="5 400" transform="rotate(149)"/>
<circle r="190" pathLength="360" stroke-dasharray="2.5 400" transform="rotate(155)"/>
<path transform="rotate(139)" d="M160 0H180"/><path transform="rotate(138)" d="M180 0H280"/><path transform="rotate(140)" d="M180 0H270"/><path transform="rotate(142)" d="M180 0H265"/><path transform="rotate(145)" d="M160 0H190"/><path transform="rotate(143)" d="M190 0H290"/><path transform="rotate(145)" d="M190 0H285"/><path transform="rotate(147)" d="M190 0H283"/><path transform="rotate(151)" d="M160 0H200"/><path transform="rotate(149)" d="M200 0H274"/><path transform="rotate(150.5)" d="M200 0H270"/><path transform="rotate(152)" d="M200 0H265"/><path transform="rotate(154)" d="M200 0H275"/><path transform="rotate(156)" d="M160 0H190"/><path transform="rotate(155)" d="M190 0H260"/><path transform="rotate(157.5)" d="M190 0H255"/>
<path transform="rotate(128)" d="M118 0H140"/>
<circle r="140" pathLength="360" stroke-dasharray="36 400" transform="rotate(100)"/>
<circle r="190" pathLength="360" stroke-dasharray="15 400" transform="rotate(121)"/>
<circle r="200" pathLength="360" stroke-dasharray="5 400" transform="rotate(124)"/>
<path transform="rotate(130)" d="M140 0H190"/><path transform="rotate(126.5)" d="M190 0H200"/><path transform="rotate(124)" d="M200 0H290"/><path transform="rotate(126)" d="M200 0H280"/><path transform="rotate(127.5)" d="M200 0H260"/><path transform="rotate(129)" d="M200 0H247"/><path transform="rotate(121)" d="M190 0H300"/><path transform="rotate(122.5)" d="M190 0H295"/><path transform="rotate(131)" d="M190 0H270"/><path transform="rotate(133)" d="M190 0H285"/><path transform="rotate(135)" d="M190 0H265"/><path transform="rotate(136)" d="M190 0H250"/>
<circle r="175" pathLength="360" stroke-dasharray="18 400" transform="rotate(99)"/>
<circle r="190" pathLength="360" stroke-dasharray="4 400" transform="rotate(102)"/>
<circle r="200" pathLength="360" stroke-dasharray="3 400" transform="rotate(110)"/>
<path transform="rotate(108)" d="M140 0H320"/><path transform="rotate(99)" d="M175 0H310"/><path transform="rotate(100.5)" d="M175 0H300"/><path transform="rotate(103)" d="M175 0H190"/><path transform="rotate(102)" d="M190 0H325"/><path transform="rotate(104)" d="M190 0H320"/><path transform="rotate(106)" d="M190 0H270"/><path transform="rotate(111.5)" d="M175 0H290"/><path transform="rotate(110)" d="M200 0H300"/><path transform="rotate(113)" d="M200 0H268"/><path transform="rotate(115)" d="M175 0H275"/><path transform="rotate(117)" d="M175 0H280"/>
<path transform="rotate(75)" d="M118 0H145"/>
<circle r="145" pathLength="360" stroke-dasharray="48 400" transform="rotate(50)"/>
<circle r="200" pathLength="360" stroke-dasharray="15 400" transform="rotate(83)"/>
<circle r="230" pathLength="360" stroke-dasharray="3.5 400" transform="rotate(84.5)"/>
<circle r="220" pathLength="360" stroke-dasharray="3 400" transform="rotate(91)"/>
<path transform="rotate(92)" d="M145 0H200"/><path transform="rotate(83)" d="M200 0H330"/><path transform="rotate(86)" d="M200 0H230"/><path transform="rotate(84.5)" d="M230 0H335"/><path transform="rotate(86.7)" d="M230 0H380"/><path transform="rotate(88)" d="M230 0H360"/><path transform="rotate(90)" d="M200 0H340"/><path transform="rotate(92.5)" d="M200 0H220"/><path transform="rotate(91)" d="M220 0H335"/><path transform="rotate(93.7)" d="M220 0H353"/><path transform="rotate(95)" d="M200 0H337"/><path transform="rotate(96.5)" d="M200 0H320"/><path transform="rotate(98)" d="M200 0H300"/>
<circle r="190" pathLength="360" stroke-dasharray="18 400" transform="rotate(59)"/>
<circle r="230" pathLength="360" stroke-dasharray="4 400" transform="rotate(63)"/>
<path transform="rotate(68)" d="M145 0H190"/><path transform="rotate(59)" d="M190 0H320"/><path transform="rotate(61)" d="M190 0H300"/><path transform="rotate(65)" d="M190 0H230"/><path transform="rotate(63)" d="M230 0H330"/><path transform="rotate(65.7)" d="M230 0H345"/><path transform="rotate(67)" d="M230 0H290"/><path transform="rotate(69)" d="M190 0H310"/><path transform="rotate(71)" d="M190 0H300"/><path transform="rotate(73)" d="M190 0H300"/><path transform="rotate(75)" d="M190 0H290"/><path transform="rotate(77)" d="M190 0H280"/>
<circle r="185" pathLength="360" stroke-dasharray="13 400" transform="rotate(45)"/>
<circle r="205" pathLength="360" stroke-dasharray="4 400" transform="rotate(53)"/>
<path transform="rotate(52)" d="M145 0H185"/><path transform="rotate(45)" d="M185 0H260"/><path transform="rotate(47)" d="M185 0H250"/><path transform="rotate(50.3)" d="M185 0H215"/><path transform="rotate(52)" d="M185 0H270"/><path transform="rotate(55)" d="M185 0H205"/><path transform="rotate(53)" d="M205 0H300"/><path transform="rotate(55.5)" d="M205 0H311"/><path transform="rotate(57)" d="M205 0H290"/><path transform="rotate(58)" d="M185 0H280"/>
<path transform="rotate(40)" d="M118 0H200"/>
<circle r="200" pathLength="360" stroke-dasharray="16.5 400" transform="rotate(27.5)"/>
<circle r="215" pathLength="360" stroke-dasharray="8 400" transform="rotate(32)"/>
<path transform="rotate(27.5)" d="M200 0H262"/><path transform="rotate(36)" d="M200 0H215"/><path transform="rotate(32)" d="M215 0H240"/><path transform="rotate(34)" d="M215 0H255"/><path transform="rotate(36)" d="M215 0H260"/><path transform="rotate(38)" d="M215 0H250"/><path transform="rotate(40)" d="M215 0H235"/>
<circle r="262" pathLength="360" stroke-dasharray="30 400" transform="rotate(3)"/>
<circle r="323" pathLength="360" stroke-dasharray="27 400" transform="rotate(1)"/>
<circle r="290" pathLength="360" stroke-dasharray="8 400" transform="rotate(8)"/>
<circle r="300" pathLength="360" stroke-dasharray="8 400" transform="rotate(30)"/>
<path transform="rotate(3)" d="M262 0H323"/><path transform="rotate(1)" d="M323 0H330"/><path transform="rotate(28)" d="M323 0H333"/><path transform="rotate(12)" d="M262 0H290"/><path transform="rotate(8)" d="M290 0H300"/><path transform="rotate(16)" d="M290 0H305"/><path transform="rotate(33)" d="M262 0H300"/><path transform="rotate(30)" d="M300 0H345"/><path transform="rotate(32)" d="M300 0H351"/><path transform="rotate(34)" d="M300 0H360"/><path transform="rotate(36)" d="M300 0H358"/><path transform="rotate(37.5)" d="M300 0H330"/>
<circle r="281" pathLength="360" stroke-dasharray="30 400" transform="rotate(236)"/>
<circle r="340" pathLength="360" stroke-dasharray="3.5 400" transform="rotate(234.5)"/>
<circle r="330" pathLength="360" stroke-dasharray="9 400" transform="rotate(241)"/>
<circle r="430" pathLength="360" stroke-dasharray="5 400" transform="rotate(239)"/>
<circle r="400" pathLength="360" stroke-dasharray="5 400" transform="rotate(245)"/>
<circle r="300" pathLength="360" stroke-dasharray="28 400" transform="rotate(256)"/>
<circle r="350" pathLength="360" stroke-dasharray="11 400" transform="rotate(252)"/>
<circle r="380" pathLength="360" stroke-dasharray="1.5 400" transform="rotate(256.5)"/>
<circle r="380" pathLength="360" stroke-dasharray="1.3 400" transform="rotate(260.2)"/>
<circle r="360" pathLength="360" stroke-dasharray="36 400" transform="rotate(267)"/>
<circle r="410" pathLength="360" stroke-dasharray="6 400" transform="rotate(265)"/>
<circle r="440" pathLength="360" stroke-dasharray="9 400" transform="rotate(272)"/>
<circle r="480" pathLength="360" stroke-dasharray="1.6 400" transform="rotate(275.9)"/>
<circle r="470" pathLength="360" stroke-dasharray="2.4 400" transform="rotate(278.6)"/>
<circle r="470" pathLength="360" stroke-dasharray="16 400" transform="rotate(282)"/>
<circle r="500" pathLength="360" stroke-dasharray="6 400" transform="rotate(286)"/>
<circle r="520" pathLength="360" stroke-dasharray="4.6 400" transform="rotate(293.4)"/>
<circle r="530" pathLength="360" stroke-dasharray="4.5 400" transform="rotate(297)"/>
<circle r="625" pathLength="360" stroke-dasharray="4 400" transform="rotate(302.5)"/>
<path transform="rotate(236)" d="M281 0H340"/><path transform="rotate(234.5)" d="M340 0H460"/><path transform="rotate(235.5)" d="M340 0H430"/><path transform="rotate(237)" d="M340 0H400"/><path transform="rotate(238)" d="M340 0H380"/><path transform="rotate(243)" d="M281 0H330"/><path transform="rotate(241)" d="M330 0H430"/><path transform="rotate(239)" d="M430 0H605"/><path transform="rotate(240.2)" d="M430 0H530"/><path transform="rotate(241.5)" d="M430 0H590"/><path transform="rotate(243)" d="M430 0H560"/><path transform="rotate(244)" d="M430 0H578"/><path transform="rotate(247)" d="M330 0H400"/><path transform="rotate(245)" d="M400 0H552"/><path transform="rotate(246.5)" d="M400 0H540"/><path transform="rotate(248)" d="M400 0H520"/><path transform="rotate(249.7)" d="M400 0H524"/><path transform="rotate(250)" d="M400 0H460"/>
<path transform="rotate(266)" d="M281 0H300"/><path transform="rotate(256)" d="M300 0H350"/><path transform="rotate(252)" d="M350 0H470"/><path transform="rotate(253.5)" d="M350 0H430"/><path transform="rotate(254.8)" d="M350 0H464"/><path transform="rotate(257)" d="M350 0H380"/><path transform="rotate(256.5)" d="M380 0H500"/><path transform="rotate(258)" d="M380 0H480"/><path transform="rotate(259.2)" d="M350 0H410"/><path transform="rotate(260.2)" d="M350 0H518"/><path transform="rotate(261.5)" d="M380 0H495"/><path transform="rotate(263)" d="M350 0H440"/>
<path transform="rotate(284)" d="M300 0H360"/><path transform="rotate(268)" d="M360 0H410"/><path transform="rotate(265)" d="M410 0H480"/><path transform="rotate(266.5)" d="M410 0H430"/><path transform="rotate(268.5)" d="M410 0H460"/><path transform="rotate(270)" d="M410 0H500"/><path transform="rotate(271)" d="M410 0H470"/><path transform="rotate(276)" d="M360 0H480"/><path transform="rotate(272.7)" d="M440 0H567"/><path transform="rotate(273.6)" d="M440 0H520"/><path transform="rotate(275)" d="M440 0H540"/><path transform="rotate(275.9)" d="M480 0H534"/><path transform="rotate(277.5)" d="M480 0H520"/><path transform="rotate(278)" d="M440 0H536"/><path transform="rotate(279.5)" d="M440 0H470"/><path transform="rotate(278.6)" d="M470 0H522"/><path transform="rotate(280.3)" d="M470 0H573"/><path transform="rotate(281)" d="M470 0H550"/>
<path transform="rotate(290)" d="M360 0H470"/><path transform="rotate(282)" d="M470 0H534"/><path transform="rotate(283.5)" d="M470 0H530"/><path transform="rotate(284.4)" d="M470 0H564"/><path transform="rotate(289)" d="M470 0H500"/><path transform="rotate(286)" d="M500 0H545"/><path transform="rotate(288)" d="M500 0H530"/><path transform="rotate(290.7)" d="M500 0H563"/><path transform="rotate(291.9)" d="M500 0H541"/><path transform="rotate(296)" d="M470 0H520"/><path transform="rotate(293.4)" d="M520 0H551"/><path transform="rotate(294.6)" d="M520 0H553"/><path transform="rotate(296)" d="M520 0H563"/><path transform="rotate(297.5)" d="M520 0H600"/><path transform="rotate(298)" d="M360 0H530"/><path transform="rotate(297)" d="M530 0H560"/><path transform="rotate(299.1)" d="M530 0H635"/><path transform="rotate(299.3)" d="M530 0H563"/><path transform="rotate(300.5)" d="M530 0H660"/><path transform="rotate(301.5)" d="M530 0H650"/>
<path transform="rotate(303)" d="M360 0H625"/><path transform="rotate(302.5)" d="M625 0H640"/><path transform="rotate(304.5)" d="M625 0H636"/><path transform="rotate(306.5)" d="M625 0H640"/>
<circle r="258" pathLength="360" stroke-dasharray="8 400" transform="rotate(309.5)"/>
<circle r="270" pathLength="360" stroke-dasharray="1.5 400" transform="rotate(310.5)"/>
<circle r="280" pathLength="360" stroke-dasharray="1.2 400" transform="rotate(312.8)"/>
<circle r="300" pathLength="360" stroke-dasharray="2.7 400" transform="rotate(314.8)"/>
<path transform="rotate(312)" d="M62 0H258"/><path transform="rotate(309.5)" d="M258 0H470"/><path transform="rotate(310.5)" d="M258 0H486"/><path transform="rotate(312)" d="M270 0H450"/><path transform="rotate(312.8)" d="M258 0H465"/><path transform="rotate(314)" d="M280 0H440"/><path transform="rotate(315)" d="M258 0H300"/><path transform="rotate(314.8)" d="M300 0H468"/><path transform="rotate(316)" d="M300 0H430"/><path transform="rotate(317.5)" d="M300 0H421"/>
<path transform="rotate(330)" d="M62 0H146"/>
<circle r="146" pathLength="360" stroke-dasharray="13 400" transform="rotate(324)"/>
<circle r="397" pathLength="360" stroke-dasharray="5 400" transform="rotate(320)"/>
<circle r="442" pathLength="360" stroke-dasharray="3.5 400" transform="rotate(321)"/>
<circle r="245" pathLength="360" stroke-dasharray="8 400" transform="rotate(333)"/>
<circle r="295" pathLength="360" stroke-dasharray="9 400" transform="rotate(327)"/>
<circle r="344" pathLength="360" stroke-dasharray="5 400" transform="rotate(326)"/>
<circle r="360" pathLength="360" stroke-dasharray="1.5 400" transform="rotate(329.5)"/>
<circle r="380" pathLength="360" stroke-dasharray="3 400" transform="rotate(333)"/>
<circle r="421" pathLength="360" stroke-dasharray="17 400" transform="rotate(338)"/>
<circle r="541" pathLength="360" stroke-dasharray="8 400" transform="rotate(337)"/>
<circle r="560" pathLength="360" stroke-dasharray="2 400" transform="rotate(342)"/>
<circle r="480" pathLength="360" stroke-dasharray="13.5 400" transform="rotate(346)"/>
<circle r="580" pathLength="360" stroke-dasharray="4 400" transform="rotate(346)"/>
<circle r="539" pathLength="360" stroke-dasharray="8.5 400" transform="rotate(351)"/>
<path transform="rotate(324)" d="M146 0H397"/><path transform="rotate(320)" d="M397 0H480"/><path transform="rotate(325)" d="M397 0H470"/><path transform="rotate(323.2)" d="M397 0H442"/><path transform="rotate(321)" d="M442 0H475"/><path transform="rotate(324.5)" d="M442 0H460"/>
<path transform="rotate(337)" d="M146 0H245"/><path transform="rotate(333)" d="M245 0H295"/><path transform="rotate(327)" d="M295 0H344"/><path transform="rotate(326)" d="M344 0H470"/><path transform="rotate(328)" d="M344 0H480"/><path transform="rotate(329.5)" d="M344 0H440"/><path transform="rotate(331)" d="M360 0H430"/><path transform="rotate(336)" d="M295 0H380"/><path transform="rotate(333)" d="M380 0H450"/><path transform="rotate(335.2)" d="M380 0H450"/><path transform="rotate(336)" d="M380 0H430"/>
<path transform="rotate(341)" d="M245 0H421"/><path transform="rotate(338)" d="M421 0H541"/><path transform="rotate(337.5)" d="M541 0H650"/><path transform="rotate(338.6)" d="M541 0H635"/><path transform="rotate(340)" d="M541 0H600"/><path transform="rotate(343)" d="M541 0H560"/><path transform="rotate(342)" d="M560 0H620"/><path transform="rotate(344)" d="M560 0H610"/><path transform="rotate(345)" d="M541 0H590"/><path transform="rotate(355)" d="M421 0H480"/><path transform="rotate(347)" d="M480 0H580"/><path transform="rotate(346)" d="M580 0H673"/><path transform="rotate(347.5)" d="M580 0H680"/><path transform="rotate(348.5)" d="M580 0H620"/><path transform="rotate(350)" d="M580 0H660"/><path transform="rotate(356)" d="M480 0H539"/><path transform="rotate(351)" d="M539 0H640"/><path transform="rotate(352.5)" d="M539 0H660"/><path transform="rotate(353.5)" d="M539 0H578"/><path transform="rotate(355.3)" d="M539 0H629"/><path transform="rotate(357.9)" d="M539 0H594"/><path transform="rotate(358.5)" d="M539 0H660"/><path transform="rotate(359.5)" d="M539 0H670"/>
</g>
<g id="tree-dots" class="dt" transform="translate(873 1814)">
<circle r="5.5" cx="161" transform="rotate(212)"/><circle r="5.5" cx="195" transform="rotate(205)"/><circle r="5.5" cx="240" transform="rotate(203)"/><circle r="5.5" cx="229" transform="rotate(217)"/><circle r="5.5" cx="262" transform="rotate(215)"/><circle r="5.5" cx="281" transform="rotate(223)"/><circle r="5.5" cx="255" transform="rotate(229)"/><circle r="5.5" cx="220" transform="rotate(209)"/>
<circle r="5.5" cx="430" transform="rotate(198)"/><circle r="5.5" cx="437" transform="rotate(199.5)"/><circle r="5.5" cx="449" transform="rotate(200.4)"/><circle r="5.5" cx="254" transform="rotate(193)"/><circle r="5.5" cx="300" transform="rotate(196)"/><circle r="5.5" cx="330" transform="rotate(191)"/><circle r="5.5" cx="280" transform="rotate(188)"/><circle r="5.5" cx="340" transform="rotate(194)"/><circle r="5.5" cx="280" transform="rotate(169)"/><circle r="5.5" cx="213" transform="rotate(177)"/><circle r="5.5" cx="260" transform="rotate(181)"/><circle r="5.5" cx="270" transform="rotate(182.5)"/><circle r="5.5" cx="260" transform="rotate(167)"/><circle r="5.5" cx="300" transform="rotate(178)"/><circle r="5.5" cx="290" transform="rotate(162)"/><circle r="5.5" cx="250" transform="rotate(174.6)"/><circle r="5.5" cx="330" transform="rotate(187.5)"/>
<circle r="5.5" cx="200" transform="rotate(151)"/><circle r="5.5" cx="240" transform="rotate(145)"/><circle r="5.5" cx="230" transform="rotate(149)"/><circle r="5.5" cx="228" transform="rotate(142)"/><circle r="5.5" cx="250" transform="rotate(147)"/><circle r="5.5" cx="220" transform="rotate(138)"/>
<circle r="5.5" cx="190" transform="rotate(130)"/><circle r="5.5" cx="230" transform="rotate(126)"/><circle r="5.5" cx="230" transform="rotate(133)"/><circle r="5.5" cx="210" transform="rotate(135)"/>
<circle r="5.5" cx="175" transform="rotate(108)"/><circle r="5.5" cx="220" transform="rotate(104)"/><circle r="5.5" cx="240" transform="rotate(111.5)"/><circle r="5.5" cx="230" transform="rotate(115)"/><circle r="5.5" cx="250" transform="rotate(100.5)"/>
<circle r="5.5" cx="200" transform="rotate(92)"/><circle r="5.5" cx="270" transform="rotate(88)"/><circle r="5.5" cx="260" transform="rotate(95)"/><circle r="5.5" cx="300" transform="rotate(86.7)"/><circle r="5.5" cx="190" transform="rotate(68)"/><circle r="5.5" cx="260" transform="rotate(71)"/><circle r="5.5" cx="250" transform="rotate(75)"/><circle r="5.5" cx="230" transform="rotate(61)"/>
<circle r="5.5" cx="230" transform="rotate(47)"/><circle r="5.5" cx="210" transform="rotate(50.3)"/><circle r="5.5" cx="240" transform="rotate(55.5)"/><circle r="5.5" cx="250" transform="rotate(57)"/><circle r="5.5" cx="185" transform="rotate(52)"/><circle r="5.5" cx="260" transform="rotate(53)"/>
<circle r="5.5" cx="262" transform="rotate(27.5)"/><circle r="5.5" cx="323" transform="rotate(1)"/><circle r="5.5" cx="351" transform="rotate(32)"/><circle r="5.5" cx="358" transform="rotate(36)"/>
<circle r="5.5" cx="281" transform="rotate(248)"/><circle r="5.5" cx="340" transform="rotate(236)"/><circle r="5.5" cx="403" transform="rotate(234.5)"/><circle r="5.5" cx="381" transform="rotate(235.5)"/><circle r="5.5" cx="430" transform="rotate(241)"/><circle r="5.5" cx="529" transform="rotate(240.2)"/><circle r="5.5" cx="526" transform="rotate(244)"/><circle r="5.5" cx="524" transform="rotate(249.7)"/><circle r="5.5" cx="457" transform="rotate(250)"/><circle r="5.5" cx="420" transform="rotate(263)"/><circle r="5.5" cx="410" transform="rotate(268)"/><circle r="5.5" cx="567" transform="rotate(272.7)"/><circle r="5.5" cx="520" transform="rotate(273.6)"/><circle r="5.5" cx="534" transform="rotate(275.9)"/><circle r="5.5" cx="536" transform="rotate(278)"/><circle r="5.5" cx="522" transform="rotate(278.6)"/><circle r="5.5" cx="534" transform="rotate(282)"/><circle r="5.5" cx="563" transform="rotate(290.7)"/><circle r="5.5" cx="541" transform="rotate(291.9)"/><circle r="5.5" cx="551" transform="rotate(293.4)"/><circle r="5.5" cx="563" transform="rotate(296)"/><circle r="5.5" cx="563" transform="rotate(299.3)"/><circle r="5.5" cx="425" transform="rotate(266.5)"/>
<circle r="5" cx="634" transform="rotate(302.5)"/><circle r="5" cx="630" transform="rotate(304.5)"/><circle r="5" cx="636" transform="rotate(306.5)"/>
<circle r="5.5" cx="258" transform="rotate(312)"/><circle r="5.5" cx="397" transform="rotate(324)"/><circle r="5.5" cx="442" transform="rotate(323.2)"/><circle r="5.5" cx="245" transform="rotate(337)"/><circle r="5.5" cx="295" transform="rotate(333)"/><circle r="5.5" cx="480" transform="rotate(328)"/><circle r="5.5" cx="401" transform="rotate(331)"/><circle r="5.5" cx="450" transform="rotate(335.2)"/><circle r="5.5" cx="421" transform="rotate(341)"/><circle r="5.5" cx="541" transform="rotate(338)"/><circle r="5.5" cx="635" transform="rotate(338.6)"/><circle r="5.5" cx="580" transform="rotate(347)"/><circle r="5.5" cx="673" transform="rotate(346)"/><circle r="5.5" cx="620" transform="rotate(348.5)"/><circle r="5.5" cx="629" transform="rotate(355.3)"/><circle r="5.5" cx="594" transform="rotate(357.9)"/><circle r="5.5" cx="670" transform="rotate(359.5)"/>
</g>
<g id="connectors-B">
<line class="rar" x1="797" y1="1410" x2="746" y2="1160" marker-end="url(#ra)"/>
<line class="rar" x1="1103" y1="1310" x2="1150" y2="1206" marker-end="url(#ra)"/>
<line class="rar" x1="458" y1="1644" x2="246" y2="1573" marker-end="url(#ra)"/>
<line class="rar" x1="607" y1="1839" x2="198" y2="1864" marker-end="url(#ra)"/>
<line class="rar" x1="1010" y1="1979" x2="1307" y2="2325" marker-end="url(#ra)"/>
<line x1="1263" y1="1310" x2="1281" y2="1282" stroke="#000" stroke-width="3" marker-end="url(#kb)"/>
<line x1="1256" y1="1304" x2="1270" y2="1316" stroke="#000" stroke-width="3"/>
</g>
<g id="labels-B">
<text class="cb" x="500" y="1280">C2</text>
<text class="cb" x="1238" y="1345">C5</text>
<text class="cb" x="1331" y="1354">C6</text>
<text class="cb" x="1381" y="1405">C8</text>
<text class="cb" x="1427" y="1474">C7</text>
<text class="cb" x="1490" y="1590">C4</text>
<text class="cb" x="1515" y="1856">C3</text>
<text class="cb" x="436" y="2290">C1</text>
<text class="lb" x="654" y="1124">BCP1_ArsC1</text>
<text class="lb" x="1161" y="1191">Cg_ArsC1</text>
<text class="lb" x="1297" y="1263">Cg_ArsC2</text>
<text class="lb" x="91" y="1583">Cg_ArsC1′</text>
<text class="lb" x="8" y="1878">BCP1_ArsC3</text>
<text class="lb" x="1314" y="2374">BCP1_ArsC4</text>
</g>
<g id="scale-bar">
<line x1="185" y1="2490" x2="257" y2="2490" stroke="#000" stroke-width="5"/>
<text class="lb" x="221" y="2534" text-anchor="middle">0.2</text>
</g>
</svg>
